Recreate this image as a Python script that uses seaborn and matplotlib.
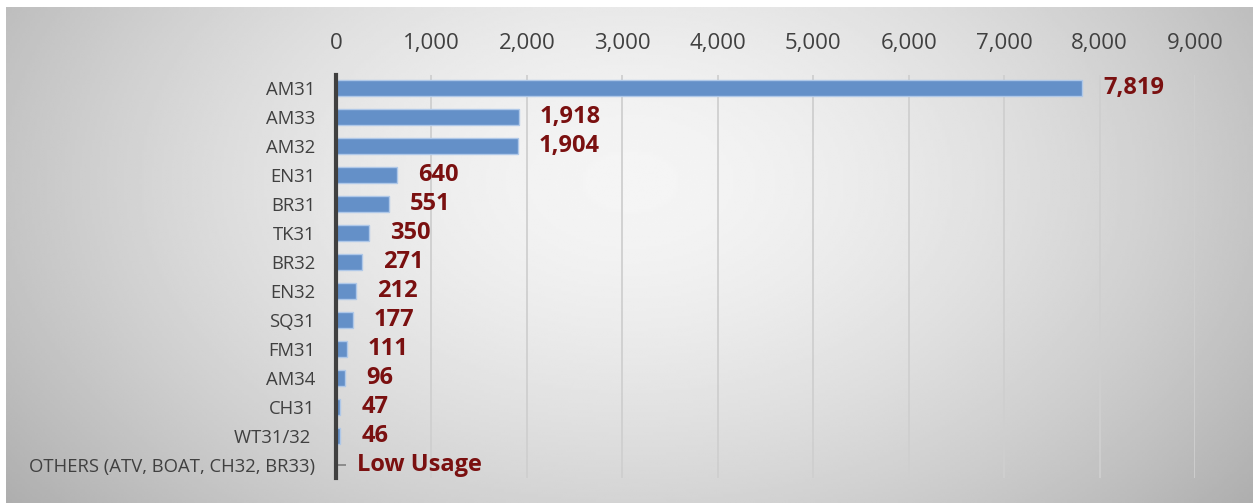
import numpy as np
import pandas as pd
import matplotlib.pyplot as plt
import seaborn as sns

categories = ["AM31", "AM33", "AM32", "EN31", "BR31", "TK31", "BR32", "EN32",
              "SQ31", "FM31", "AM34", "CH31", "WT31/32 ", "OTHERS (ATV, BOAT, CH32, BR33)"]
values = [7819, 1918, 1904, 640, 551, 350, 271, 212, 177, 111, 96, 47, 46, 0]
value_labels = ["7,819", "1,918", "1,904", "640", "551", "350", "271", "212",
                "177", "111", "96", "47", "46", "Low Usage"]
xticks = list(range(0, 10000, 1000))

df = pd.DataFrame({"category": categories, "value": values})

sns.set_style("white")
plt.rcParams["font.family"] = ["Open Sans", "DejaVu Sans"]

fig = plt.figure(figsize=(12.53, 5.03), dpi=100)

# gradient background panel
bg = fig.add_axes([6 / 1253, 0, 1 - 6 / 1253, 1 - 7 / 503])
h, w = 200, 500
yy, xx = np.mgrid[0:h, 0:w]
r = np.sqrt(((xx - w * 0.5) / (w * 0.55)) ** 2 + ((yy - h * 0.35) / (h * 0.9)) ** 2)
shade = np.clip(0.96 - 0.22 * r ** 1.6, 0, 1)
bg.imshow(shade, cmap="gray", vmin=0, vmax=1, aspect="auto", interpolation="bilinear")
bg.axis("off")

ax = fig.add_axes([336 / 1253, 25 / 503, (1195 - 336) / 1253, (478 - 75) / 503])
ax.patch.set_alpha(0)

sns.barplot(data=df, x="value", y="category", orient="h", color="#6490C8",
            width=0.55, saturation=1, edgecolor="#AFC8E8", linewidth=1, ax=ax)

ax.set_xlim(0, 9000)
ax.set_ylim(len(categories) - 0.55, -0.45)
ax.set_xticks(xticks)
ax.set_xticklabels([f"{t:,}" for t in xticks], fontsize=16, color="#404040")
ax.xaxis.tick_top()
ax.tick_params(axis="x", length=0, pad=15)
ax.tick_params(axis="y", length=0, pad=15, labelsize=13.3, labelcolor="#404040")
ax.set_xlabel("")
ax.set_ylabel("")

for t in xticks[1:]:
    ax.axvline(t, color="#CFCFCF", linewidth=1.3, zorder=0)

for s in ["top", "right", "bottom"]:
    ax.spines[s].set_visible(False)
ax.spines["left"].set_color("#404040")
ax.spines["left"].set_linewidth(3)

# short marker for the low-usage row
last = len(categories) - 1
ax.hlines(last, 0, 110, color="#808080", linewidth=1.2)

for i, (v, lab) in enumerate(zip(values, value_labels)):
    ax.annotate(lab, xy=(v, i), xytext=(15, 0), textcoords="offset points",
                va="center", ha="left", fontsize=17, fontweight="bold",
                color="#7A1010")

fig.savefig("out.png", dpi=100)
